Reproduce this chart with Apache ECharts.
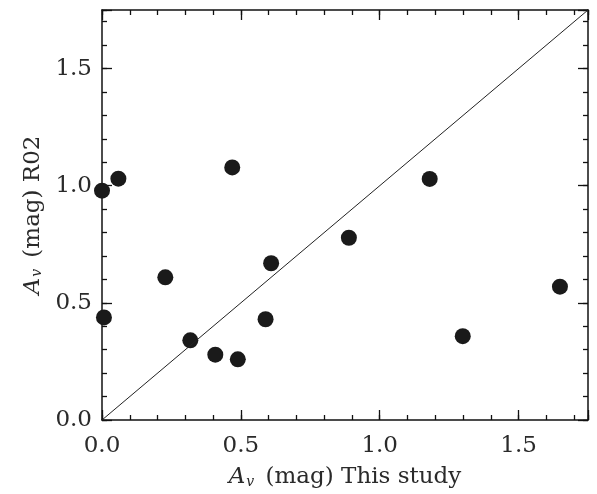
<!DOCTYPE html>
<html><head><meta charset="utf-8">
<script src="https://cdn.jsdelivr.net/npm/echarts@6/dist/echarts.min.js"></script>
<style>html,body{margin:0;padding:0;background:#fff}#c{width:597px;height:494px}</style>
</head><body><div id="c"></div>
<script>
const avThisStudy = [0.00, 0.059, 0.469, 0.007, 0.228, 0.318, 0.408, 0.489, 0.589, 0.609, 0.889, 1.180, 1.299, 1.649];
const avR02       = [0.979, 1.030, 1.078, 0.438, 0.609, 0.340, 0.279, 0.259, 0.430, 0.669, 0.778, 1.029, 0.358, 0.569];
const lineX = [0, 1.75];
const lineY = [0, 1.75];
const axisMin = 0, axisMax = 1.75, majorStep = 0.5, minorStep = 0.1;

const points = avThisStudy.map((x, i) => [x, avR02[i]]);
const diag = lineX.map((x, i) => [x, lineY[i]]);
const font = 'DejaVu Serif';
const txt = '#2a2a2a';
const lab = v => Math.abs(v - 1.75) < 1e-6 ? '' : v.toFixed(1);

function ax(pos, major, labels, margin) {
  return {
    type: 'value', position: pos, min: axisMin, max: axisMax,
    interval: major ? majorStep : minorStep,
    axisLine: { show: major, onZero: false, lineStyle: { color: '#111', width: 1.5 } },
    axisTick: { show: true, inside: true, length: major ? 10 : 5, lineStyle: { color: '#111', width: 1.3 } },
    axisLabel: { show: labels, formatter: lab, fontFamily: font, fontSize: 23, color: txt, margin: margin || 10 },
    splitLine: { show: false }
  };
}
const nameStyle = { fontFamily: font, fontSize: 23, color: txt,
  rich: { i: { fontFamily: font, fontStyle: 'italic', fontSize: 23, color: txt },
          s: { fontFamily: font, fontStyle: 'italic', fontSize: 14, color: txt, verticalAlign: 'bottom', padding: [9, 4, 0, 1] } } };
const xa0 = ax('bottom', true, true, 15);
xa0.name = '{i|A}{s|v} (mag) This study';
xa0.nameLocation = 'middle'; xa0.nameGap = 46;
xa0.nameTextStyle = nameStyle;
const ya0 = ax('left', true, true, 10);
ya0.name = '{i|A}{s|v} (mag) R02';
ya0.nameLocation = 'middle'; ya0.nameGap = 56;
ya0.nameTextStyle = nameStyle;

const chart = echarts.init(document.getElementById('c'));
chart.setOption({
  animation: false,
  backgroundColor: '#fff',
  grid: { left: 102, top: 10, right: 9, bottom: 74, containLabel: false },
  xAxis: [xa0, ax('bottom', false, false), ax('top', true, false), ax('top', false, false)],
  yAxis: [ya0, ax('left', false, false), ax('right', true, false), ax('right', false, false)],
  series: [
    { type: 'line', data: diag, xAxisIndex: 0, yAxisIndex: 0, showSymbol: false, symbol: 'none',
      lineStyle: { color: '#222', width: 1 }, silent: true },
    { type: 'scatter', data: points, xAxisIndex: 0, yAxisIndex: 0, symbol: 'circle', symbolSize: 16,
      itemStyle: { color: '#1a1a1a', opacity: 1 }, clip: false }
  ]
});
</script></body></html>
